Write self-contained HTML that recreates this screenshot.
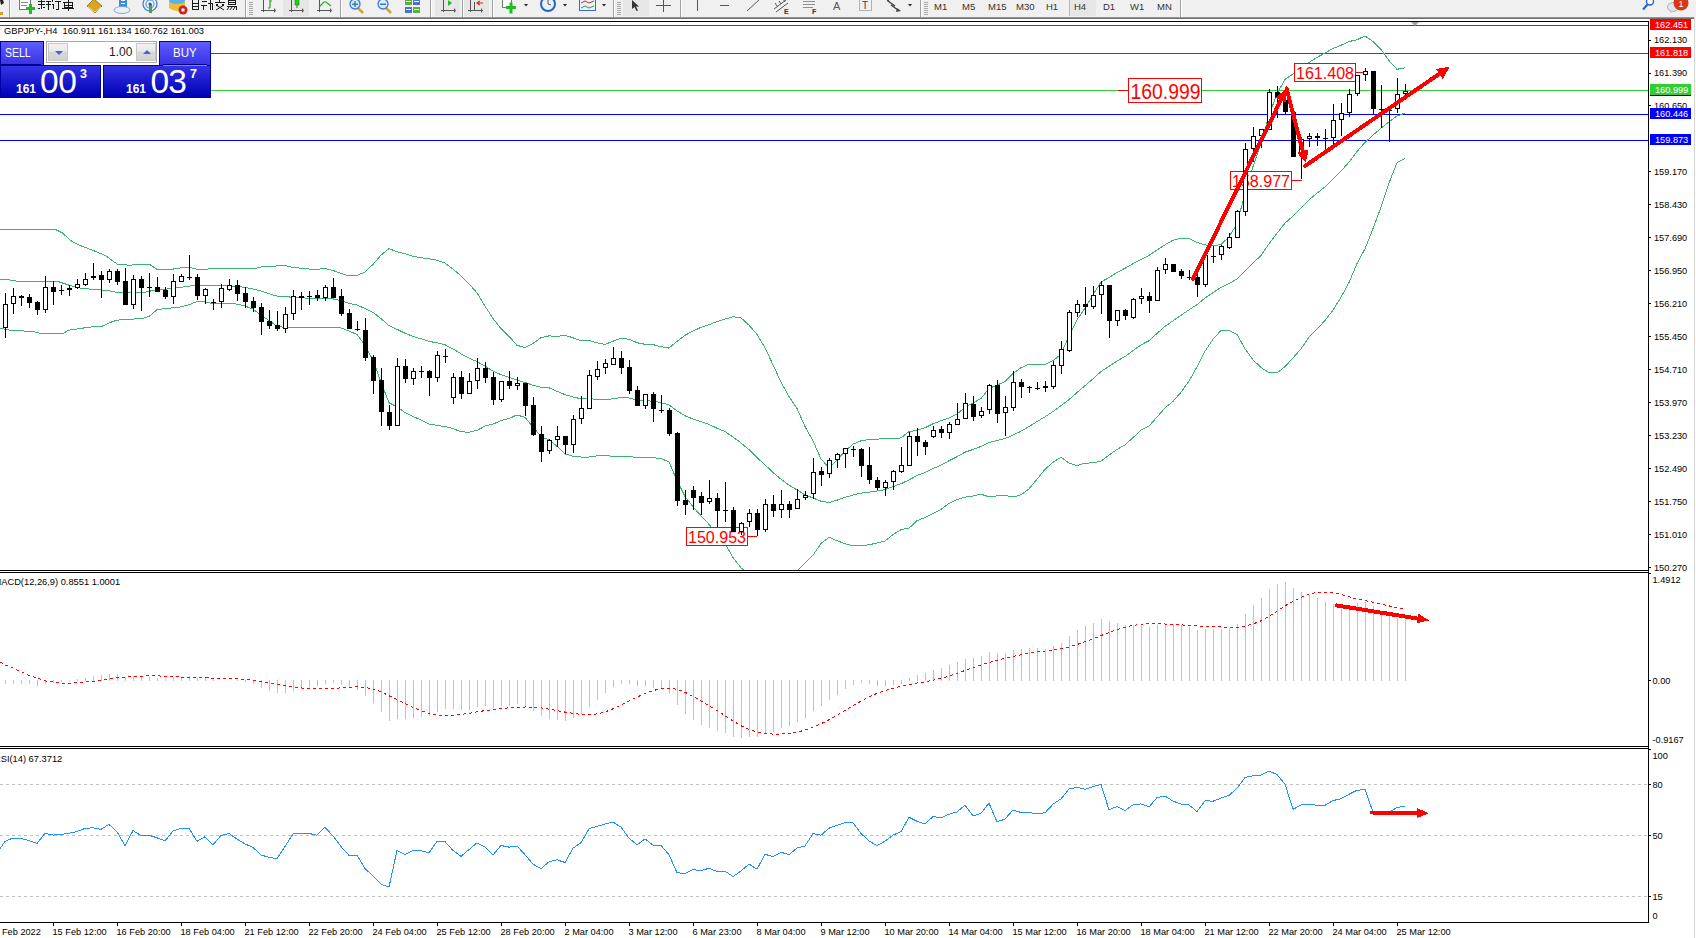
<!DOCTYPE html>
<html><head><meta charset="utf-8"><style>
html,body{margin:0;padding:0;width:1696px;height:938px;overflow:hidden;background:#fff;position:relative;font-family:"Liberation Sans",sans-serif}
#tb{position:absolute;left:0;top:0;width:1696px;height:17px;background:#f0f0f0}

.pb{position:absolute;box-sizing:border-box;border:1px solid #0000a8;background:linear-gradient(#5c5cff,#3a32e2);color:#fff;font-size:12.5px}
.pp{position:absolute;box-sizing:border-box;border:1px solid #0000a8;background:linear-gradient(#3434e4,#0000b4);color:#fff}
.vol{position:absolute;box-sizing:border-box;left:46px;top:41px;width:111px;height:22px;border:1px solid #a8a8a8;background:#fff}
.vb{position:absolute;top:1px;width:20px;height:18px;box-sizing:border-box;background:linear-gradient(#f2f2f2 0%,#e8e8e8 45%,#d8d8d8 50%,#d2d2d2 100%);border:1px solid #c8c8c8}
.tri{position:absolute;left:6px;width:0;height:0;border-left:4px solid transparent;border-right:4px solid transparent}

</style></head><body>
<div id="tb"></div>
<svg width="1696" height="22" style="position:absolute;left:0;top:0" shape-rendering="auto"><g font-family="Liberation Sans"><path d="M0,0 L3,0 L4,3 L1,5 Z" fill="#222"/><rect x="0" y="12" width="3" height="3" fill="#d4a030"/><rect x="9" y="0" width="1" height="17" fill="#a0a0a0"/><rect x="10" y="0" width="1" height="17" fill="#ffffff"/><rect x="19.5" y="-2.5" width="11" height="12" fill="#fff" stroke="#777"/><rect x="21" y="2" width="7" height="1" fill="#888"/><rect x="21" y="5" width="6" height="1" fill="#888"/><rect x="26" y="7" width="9" height="3" fill="#22bb22"/><rect x="29" y="4" width="3" height="10" fill="#22bb22"/><g fill="#1a1a1a"><rect x="38" y="1" width="7" height="1"/><rect x="41" y="0" width="1" height="9"/><rect x="38" y="4" width="7" height="1"/><rect x="38" y="8" width="2" height="1"/><rect x="43" y="7" width="2" height="1"/><rect x="46" y="1" width="5" height="1"/><rect x="48" y="1" width="1" height="9"/><rect x="46" y="4" width="5" height="1"/><rect x="52" y="0" width="1" height="2"/><rect x="52" y="4" width="2" height="1"/><rect x="53" y="4" width="1" height="5"/><rect x="55" y="1" width="6" height="1"/><rect x="58" y="1" width="1" height="9"/><rect x="56" y="9" width="2" height="1"/><rect x="63" y="2" width="10" height="1"/><rect x="64" y="3" width="1" height="5"/><rect x="72" y="3" width="1" height="5"/><rect x="64" y="5" width="9" height="1"/><rect x="64" y="7" width="9" height="1"/><rect x="62" y="8" width="12" height="1"/><rect x="68" y="0" width="1" height="11"/></g><path d="M87,6 L94,-1 L102,6 L95,13 Z" fill="#d9a520" stroke="#8a6410" stroke-width="0.8"/><path d="M88,7 L95,12 L101,7" fill="none" stroke="#f5e090" stroke-width="1"/><rect x="119" y="-2" width="8" height="9" fill="#3a8ee0"/><rect x="121" y="0" width="4" height="1" fill="#fff"/><rect x="121" y="3" width="4" height="1" fill="#fff"/><ellipse cx="122" cy="10" rx="8" ry="3.5" fill="#e8f0f8" stroke="#7a96b8" stroke-width="0.8"/><circle cx="150" cy="4" r="7" fill="none" stroke="#3a78d0" stroke-width="1.2"/><circle cx="150" cy="4" r="4" fill="none" stroke="#5aa0e0" stroke-width="1.2"/><rect x="149" y="4" width="3" height="9" fill="#4aa050"/><circle cx="150" cy="4" r="1.5" fill="#1a5ab0"/><ellipse cx="177" cy="1" rx="8" ry="4" fill="#5ab0e8"/><path d="M169,2 L169,8 Q177,14 185,8 L185,2 Q177,6 169,2 Z" fill="#e8c030"/><circle cx="183" cy="10" r="4.5" fill="#d02020"/><rect x="181.5" y="8.5" width="3" height="3" fill="#fff"/><g fill="#1a1a1a"><rect x="192" y="0" width="1" height="10"/><rect x="198" y="0" width="1" height="10"/><rect x="192" y="3" width="7" height="1"/><rect x="192" y="6" width="7" height="1"/><rect x="192" y="9" width="7" height="1"/><rect x="202" y="1" width="5" height="1"/><rect x="201" y="5" width="6" height="1"/><rect x="203" y="5" width="1" height="5"/><rect x="208" y="3" width="5" height="1"/><rect x="210" y="0" width="1" height="10"/><rect x="212" y="3" width="1" height="7"/><rect x="215" y="2" width="10" height="1"/><rect x="219" y="0" width="1" height="2"/><rect x="216" y="4" width="2" height="2"/><rect x="222" y="4" width="2" height="2"/><path d="M216,10 L224,5" stroke="#1a1a1a" stroke-width="1"/><path d="M216,5 L224,10" stroke="#1a1a1a" stroke-width="1"/><rect x="228" y="0" width="8" height="1"/><rect x="228" y="0" width="1" height="5"/><rect x="235" y="0" width="1" height="5"/><rect x="228" y="2" width="8" height="1"/><rect x="228" y="4" width="8" height="1"/><rect x="227" y="6" width="10" height="1"/><rect x="236" y="6" width="1" height="4"/><path d="M229,7 L227,10 M232,7 L230,10 M235,7 L233,10" stroke="#1a1a1a" stroke-width="1"/></g><rect x="245" y="0" width="1" height="17" fill="#a0a0a0"/><rect x="246" y="0" width="1" height="17" fill="#ffffff"/><rect x="249" y="2" width="4" height="1" fill="#a8a8a8"/><rect x="249" y="4" width="4" height="1" fill="#a8a8a8"/><rect x="249" y="6" width="4" height="1" fill="#a8a8a8"/><rect x="249" y="8" width="4" height="1" fill="#a8a8a8"/><rect x="249" y="10" width="4" height="1" fill="#a8a8a8"/><rect x="249" y="12" width="4" height="1" fill="#a8a8a8"/><rect x="249" y="14" width="4" height="1" fill="#a8a8a8"/><rect x="263" y="-1" width="1" height="13" fill="#555"/><rect x="261" y="10" width="14" height="1" fill="#555"/><path d="M274,8 L276,10.5 L274,13 Z" fill="#555"/><path d="M270,0 L270,8 M268,8 L270,8 M270,1 L272,1" stroke="#22aa22" stroke-width="1.2" fill="none"/><rect x="283" y="0" width="26" height="16" fill="#e6e6e6"/><rect x="291" y="-1" width="1" height="13" fill="#555"/><rect x="289" y="10" width="14" height="1" fill="#555"/><path d="M302,8 L304,10.5 L302,13 Z" fill="#555"/><rect x="295" y="-1" width="4" height="6" fill="#22cc22" stroke="#118811" stroke-width="0.6"/><rect x="296.5" y="5" width="1" height="3" fill="#118811"/><rect x="319" y="-1" width="1" height="13" fill="#555"/><rect x="317" y="10" width="14" height="1" fill="#555"/><path d="M330,8 L332,10.5 L330,13 Z" fill="#555"/><path d="M319,7 L324,2 L326,2 L331,6" stroke="#22aa22" stroke-width="1.2" fill="none"/><rect x="340" y="0" width="1" height="17" fill="#a0a0a0"/><rect x="341" y="0" width="1" height="17" fill="#ffffff"/><path d="M358,8 L363,13" stroke="#c8a830" stroke-width="2.5"/><circle cx="355" cy="4" r="5" fill="#d8ecfa" stroke="#3a7ad0" stroke-width="1.3"/><rect x="352" y="3.5" width="6" height="1.5" fill="#3a7ad0"/><rect x="354.25" y="1" width="1.5" height="6" fill="#3a7ad0"/><path d="M386,8 L391,13" stroke="#c8a830" stroke-width="2.5"/><circle cx="383" cy="4" r="5" fill="#d8ecfa" stroke="#3a7ad0" stroke-width="1.3"/><rect x="380" y="3.5" width="6" height="1.5" fill="#3a7ad0"/><rect x="405" y="-1" width="7" height="6" fill="#5ab040"/><rect x="413" y="-1" width="7" height="6" fill="#4a70d0"/><rect x="405" y="7" width="7" height="6" fill="#4a70d0"/><rect x="413" y="7" width="7" height="6" fill="#5ab040"/><rect x="406" y="1" width="5" height="1" fill="#fff"/><rect x="414" y="1" width="5" height="1" fill="#fff"/><rect x="406" y="9" width="5" height="1" fill="#fff"/><rect x="414" y="9" width="5" height="1" fill="#fff"/><rect x="430" y="0" width="1" height="17" fill="#a0a0a0"/><rect x="431" y="0" width="1" height="17" fill="#ffffff"/><rect x="435" y="0" width="25" height="16" fill="#e6e6e6"/><rect x="443" y="-1" width="1" height="13" fill="#555"/><rect x="441" y="10" width="14" height="1" fill="#555"/><path d="M454,8 L456,10.5 L454,13 Z" fill="#555"/><path d="M448,0 L452,3 L448,6 Z" fill="#22bb22"/><rect x="462" y="0" width="1" height="17" fill="#a0a0a0"/><rect x="463" y="0" width="1" height="17" fill="#ffffff"/><rect x="464" y="0" width="25" height="16" fill="#e6e6e6"/><rect x="470" y="-1" width="1" height="13" fill="#555"/><rect x="468" y="10" width="14" height="1" fill="#555"/><path d="M481,8 L483,10.5 L481,13 Z" fill="#555"/><rect x="474" y="2" width="1" height="8" fill="#555"/><path d="M483,3 L478,3 M480,1 L477,3 L480,5" stroke="#d03020" stroke-width="1.2" fill="none"/><rect x="492" y="0" width="1" height="17" fill="#a0a0a0"/><rect x="493" y="0" width="1" height="17" fill="#ffffff"/><rect x="502.5" y="-2.5" width="9" height="10" fill="#fff" stroke="#777"/><rect x="506" y="6" width="10" height="3" fill="#22bb22"/><rect x="509.5" y="2.5" width="3" height="11" fill="#22bb22"/><path d="M524,4 L528,4 L526,6.5 Z" fill="#222"/><circle cx="548" cy="4" r="7" fill="#e8f2fc" stroke="#2a62c0" stroke-width="2"/><path d="M548,0 L548,4 L551,5" stroke="#333" stroke-width="0.8" fill="none"/><path d="M563,4 L567,4 L565,6.5 Z" fill="#222"/><rect x="579.5" y="-1.5" width="16" height="12" fill="#eaf2fc" stroke="#3a6ac0"/><path d="M581,3 L585,1 L589,3 L594,1" stroke="#c03020" fill="none"/><path d="M581,8 L585,6 L589,8 L594,6" stroke="#30a030" fill="none"/><path d="M602,4 L606,4 L604,6.5 Z" fill="#222"/><rect x="613" y="0" width="1" height="17" fill="#a0a0a0"/><rect x="614" y="0" width="1" height="17" fill="#ffffff"/><rect x="617" y="2" width="4" height="1" fill="#a8a8a8"/><rect x="617" y="4" width="4" height="1" fill="#a8a8a8"/><rect x="617" y="6" width="4" height="1" fill="#a8a8a8"/><rect x="617" y="8" width="4" height="1" fill="#a8a8a8"/><rect x="617" y="10" width="4" height="1" fill="#a8a8a8"/><rect x="617" y="12" width="4" height="1" fill="#a8a8a8"/><rect x="617" y="14" width="4" height="1" fill="#a8a8a8"/><rect x="623" y="0" width="26" height="16" fill="#e6e6e6"/><path d="M632,0 L632,9 L634.5,7 L636.5,11 L638,10.5 L636,6.5 L639,6.5 Z" fill="#333"/><rect x="663" y="-1" width="1" height="13" fill="#555"/><rect x="656" y="5" width="15" height="1" fill="#555"/><rect x="680" y="0" width="1" height="17" fill="#a0a0a0"/><rect x="681" y="0" width="1" height="17" fill="#ffffff"/><rect x="697" y="-1" width="1" height="12" fill="#555"/><rect x="720" y="5" width="9" height="1" fill="#555"/><path d="M747,11 L760,-1" stroke="#555" stroke-width="1"/><path d="M774,9 L786,0 M776,12 L788,3 M775,3 L777,6 M779,1 L781,4 M783,-1 L785,2" stroke="#555" stroke-width="1" fill="none"/><text x="784" y="14" font-size="7" font-weight="bold" fill="#333">E</text><g fill="#666"><rect x="803" y="1" width="12" height="1" opacity="0.7"/><rect x="803" y="4" width="12" height="1" opacity="0.7"/><rect x="803" y="7" width="10" height="1" opacity="0.7"/></g><text x="812" y="14" font-size="7" font-weight="bold" fill="#333">F</text><text x="833" y="10" font-size="11" fill="#555">A</text><rect x="859.5" y="-0.5" width="12" height="11" fill="none" stroke="#777" stroke-dasharray="1,1"/><text x="862" y="9" font-size="10" fill="#444">T</text><path d="M888,1 L895,6 M891,5 L898,10" stroke="#444" stroke-width="1.5"/><path d="M886,-1 L890,-1 L888,2Z M897,8 L901,11 L896,12Z" fill="#444"/><path d="M908,4 L912,4 L910,6.5 Z" fill="#222"/><rect x="920" y="0" width="1" height="17" fill="#a0a0a0"/><rect x="921" y="0" width="1" height="17" fill="#ffffff"/><rect x="924" y="2" width="4" height="1" fill="#a8a8a8"/><rect x="924" y="4" width="4" height="1" fill="#a8a8a8"/><rect x="924" y="6" width="4" height="1" fill="#a8a8a8"/><rect x="924" y="8" width="4" height="1" fill="#a8a8a8"/><rect x="924" y="10" width="4" height="1" fill="#a8a8a8"/><rect x="924" y="12" width="4" height="1" fill="#a8a8a8"/><rect x="924" y="14" width="4" height="1" fill="#a8a8a8"/><rect x="1069" y="0" width="27" height="16" fill="#e6e6e6"/><rect x="1069" y="0" width="1" height="16" fill="#b8b8b8"/><text x="934" y="10" font-size="9.5" fill="#333">M1</text><text x="962" y="10" font-size="9.5" fill="#333">M5</text><text x="988" y="10" font-size="9.5" fill="#333">M15</text><text x="1016" y="10" font-size="9.5" fill="#333">M30</text><text x="1046" y="10" font-size="9.5" fill="#333">H1</text><text x="1074" y="10" font-size="9.5" fill="#333">H4</text><text x="1103" y="10" font-size="9.5" fill="#333">D1</text><text x="1130" y="10" font-size="9.5" fill="#333">W1</text><text x="1157" y="10" font-size="9.5" fill="#333">MN</text><rect x="1180" y="0" width="1" height="17" fill="#a0a0a0"/><rect x="1181" y="0" width="1" height="17" fill="#ffffff"/><circle cx="1650" cy="1.5" r="3.5" fill="#fff" stroke="#2a62d0" stroke-width="1.4"/><path d="M1647.5,4.5 L1643,9.5" stroke="#2a62d0" stroke-width="2.2"/><ellipse cx="1673" cy="7" rx="5.5" ry="4.5" fill="#e4e4ec" stroke="#a0a0a8" stroke-width="0.8"/><path d="M1670,10 L1670,13.5 L1673,11" fill="#c8c8d0"/><circle cx="1681" cy="3" r="7.5" fill="#d83818"/><text x="1678.5" y="7" font-size="9" fill="#fff">1</text></g>
<rect x="0" y="17" width="1695" height="1" fill="#969696"/><rect x="0" y="18" width="1695" height="1" fill="#6e6e6e"/>
</svg>
<svg width="1696" height="938" style="position:absolute;left:0;top:0">
<defs><clipPath id="cpMain"><rect x="0" y="22" width="1648" height="548"/></clipPath>
<clipPath id="cpMacd"><rect x="0" y="573" width="1648" height="173"/></clipPath>
<clipPath id="cpAll"><rect x="0" y="22" width="1648" height="900"/></clipPath>
<clipPath id="cpRsi"><rect x="0" y="749" width="1648" height="173"/></clipPath></defs>
<g shape-rendering="crispEdges"><rect x="0" y="21" width="1649" height="1" fill="#000"/><rect x="1648" y="21" width="1" height="902" fill="#000"/><rect x="0" y="570" width="1649" height="1" fill="#000"/><rect x="0" y="572" width="1649" height="1" fill="#000"/><rect x="0" y="746" width="1649" height="1" fill="#000"/><rect x="0" y="748" width="1649" height="1" fill="#000"/><rect x="0" y="922" width="1649" height="1" fill="#000"/><rect x="0" y="25" width="1648" height="1" fill="#ff0000"/><rect x="0" y="53" width="1648" height="1" fill="#ff0000"/><rect x="0" y="90" width="1648" height="1" fill="#32cd32"/><rect x="0" y="114" width="1648" height="1" fill="#0000ff"/><rect x="0" y="140" width="1648" height="1" fill="#0000ff"/></g>
<g clip-path="url(#cpMain)" shape-rendering="crispEdges"><polyline points="0,229.9 32.8,229.3 55.2,229.3 62.7,233.1 70.2,240.3 78.9,245 92.8,250.3 105.6,255.6 109.8,258.7 117.3,264.2 130.1,265.3 137.6,264.2 149.3,264.2 157,269.4 165,269.9 173,269.1 181,267.8 189,267.3 197,269.3 205,269.3 213,268.4 221,268.4 229,268.3 237,268.4 245,268.7 253,268.9 261,266.9 269,267 277,265.9 285,265.6 293,267.5 301,268.2 309,269 317,269.4 325,268.5 333,270.4 341,273.5 349,275.8 357,275.5 365,272 373,264.4 381,255.1 389,248.6 397,251.8 405,253.8 413,256.3 421,257.7 429,258.8 437,260.1 445,263.1 453,269.2 461,275.7 469,284 477,292.8 485,306.1 493,318.4 501,328.7 509,336.3 517,345.3 525,347.6 533,343.5 541,337.6 549,335.9 557,336.4 565,335.3 573,337.8 581,340.7 589,340.4 597,342.9 605,344.4 613,341.2 621,338.4 629,339.2 637,342.7 645,344.3 653,344.6 661,346.7 669,348.1 677,341.4 685,335.3 693,331.1 701,327.3 709,324.7 717,321.6 725,319.1 733,316.8 741,317.8 749,325.2 757,334.3 765,347.8 773,364.8 781,382.2 789,396.4 797,408.6 805,426.6 813,440.8 821,458.9 829,467.9 837,459.8 845,451.2 853,444.1 861,440.8 869,439.6 877,439.2 885,438.3 893,438.5 901,437.9 909,431.6 917,430.3 925,427.8 933,423.8 941,420.7 949,418 957,414.1 965,407.2 973,403 981,398.5 989,388.4 997,385.2 1005,381.5 1013,373.4 1021,367.7 1029,364.3 1037,364 1045,364.4 1053,360.7 1061,354.3 1069,335.9 1077,319.8 1085,308.2 1093,294.8 1101,282 1109,277.6 1117,272.4 1125,268.3 1133,263.7 1141,259.6 1149,255.4 1157,249.9 1165,244.8 1173,240.2 1181,238.3 1189,238.5 1197,242.5 1205,244.8 1213,246 1221,244.4 1229,237 1237,223.7 1245,193.5 1253,166.6 1261,143.1 1269,115.3 1277,93.7 1285,79.4 1293,74 1301,67.4 1309,62.5 1317,57.4 1325,53.1 1333,48.5 1341,45.2 1349,41.6 1357,39.7 1365,35.9 1373,41.5 1381,49.3 1389,60.6 1397,69.3 1405,67.8" fill="none" stroke="#3cb371" stroke-width="1"/><polyline points="0,279.3 9.6,279.3 10.7,280.9 34.1,281.4 57.6,281.4 69.3,285.3 81,288.2 90.6,289.2 106.6,290.3 117.3,292.5 144,292.5 153.5,290.3 157,289.6 165,289.2 173,288.4 181,287.4 189,286.1 197,285.4 205,285.5 213,286 221,285.9 229,285.8 237,286.3 245,287.4 253,288.9 261,291 269,293.7 277,296.1 285,296.5 293,297.4 301,297.8 309,298.2 317,298.5 325,298.1 333,298.9 341,300.8 349,303.4 357,305.1 365,308.5 373,312.4 381,318.6 389,325.7 397,329.3 405,333.2 413,336.4 421,338.8 429,341.4 437,342.8 445,344.8 453,348.9 461,353.8 469,358.1 477,361.6 485,366.1 493,371.2 501,374.6 509,377.4 517,380.1 525,382.5 533,385.2 541,387.2 549,387.8 557,391.3 565,394.6 573,397 581,398.8 589,398.7 597,399.4 605,399.8 613,398.8 621,397.5 629,398 637,399.9 645,400.7 653,401.2 661,402.6 669,405 677,410.9 685,415.8 693,419 701,421.5 709,424.5 717,428.2 725,431.5 733,437.1 741,442.9 749,449.7 757,457.7 765,464.8 773,472.5 781,479.2 789,485.2 797,489.8 805,494.9 813,498 821,501.2 829,502.6 837,500.2 845,497.4 853,495 861,493.1 869,492.2 877,491.1 885,489.6 893,486.6 901,483.7 909,479.9 917,475.5 925,472.7 933,468.6 941,465.1 949,460.8 957,456.8 965,452.2 973,449.5 981,446.4 989,442.6 997,440.6 1005,438.5 1013,435.2 1021,431.2 1029,426.6 1037,421.6 1045,416.8 1053,411.5 1061,405.7 1069,399.5 1077,392.6 1085,385.6 1093,378.9 1101,371.5 1109,366.3 1117,360.9 1125,356.6 1133,350.6 1141,344.9 1149,340.7 1157,333.5 1165,326.4 1173,320.8 1181,315.3 1189,309.8 1197,304.6 1205,298.1 1213,292.6 1221,287.4 1229,283.7 1237,279 1245,271.2 1253,263.2 1261,255.4 1269,243.9 1277,233.3 1285,223.1 1293,216 1301,208.1 1309,199.9 1317,193.2 1325,186.9 1333,179.3 1341,171.2 1349,162.1 1357,151.6 1365,142.4 1373,135.1 1381,128.2 1389,121.8 1397,116 1405,113.1" fill="none" stroke="#3cb371" stroke-width="1"/><polyline points="0,328.2 10.7,330.3 32,331.4 41.6,333.5 62.9,333.5 68.2,330.3 89.6,327.1 102.4,326.1 109.8,322.6 117.3,320.1 142.9,318.4 149.3,316.3 157,309.7 165,308.5 173,307.8 181,306.9 189,304.8 197,301.5 205,301.7 213,303.7 221,303.5 229,303.3 237,304.1 245,306.1 253,309 261,315.1 269,320.5 277,326.2 285,327.5 293,327.4 301,327.4 309,327.5 317,327.6 325,327.6 333,327.4 341,328 349,331 357,334.6 365,345 373,360.4 381,382.2 389,402.7 397,406.8 405,412.5 413,416.4 421,420 429,424.1 437,425.4 445,426.5 453,428.6 461,431.8 469,432.2 477,430.4 485,426.1 493,424.1 501,420.5 509,418.6 517,414.9 525,417.4 533,426.9 541,436.7 549,439.8 557,446.3 565,453.9 573,456.2 581,457 589,457 597,455.9 605,455.2 613,456.4 621,456.7 629,456.8 637,457.2 645,457.1 653,457.7 661,458.5 669,461.9 677,480.4 685,496.4 693,506.8 701,515.8 709,524.3 717,534.8 725,543.8 733,557.4 741,567.9 749,574.3 757,581.2 765,581.7 773,580.2 781,576.3 789,574 797,571.1 805,563.2 813,555.2 821,543.5 829,537.2 837,540.7 845,543.7 853,545.9 861,545.5 869,544.8 877,543 885,540.9 893,534.7 901,529.6 909,528.2 917,520.7 925,517.5 933,513.4 941,509.4 949,503.5 957,499.5 965,497.2 973,496 981,494.2 989,496.8 997,495.9 1005,495.5 1013,497 1021,494.8 1029,488.9 1037,479.2 1045,469.3 1053,462.3 1061,457.2 1069,463.2 1077,465.5 1085,463.1 1093,462.9 1101,461.1 1109,455.1 1117,449.4 1125,444.8 1133,437.6 1141,430.2 1149,426 1157,417.1 1165,407.9 1173,401.4 1181,392.2 1189,381 1197,366.8 1205,351.3 1213,339.2 1221,330.5 1229,330.3 1237,334.4 1245,348.8 1253,359.8 1261,367.6 1269,372.5 1277,372.9 1285,366.7 1293,357.9 1301,348.8 1309,337.2 1317,329.1 1325,320.6 1333,310.1 1341,297.2 1349,282.5 1357,263.5 1365,248.8 1373,228.6 1381,207.1 1389,183.1 1397,162.7 1405,158.3" fill="none" stroke="#3cb371" stroke-width="1"/></g>
<g font-family="Liberation Sans"><rect x="1118" y="90" width="10" height="1" fill="#ff0000"/><rect x="1128.5" y="78.5" width="73" height="24" fill="#fff" stroke="#ff0000" stroke-width="1"/><text x="1130.5" y="99" font-size="22" fill="#ff0000" textLength="70" lengthAdjust="spacingAndGlyphs">160.999</text><rect x="1356" y="72" width="8" height="1" fill="#ff0000"/><rect x="1294.5" y="63.5" width="61" height="18" fill="#fff" stroke="#ff0000" stroke-width="1"/><text x="1296" y="78.5" font-size="17" fill="#ff0000" textLength="58" lengthAdjust="spacingAndGlyphs">161.408</text><rect x="1292" y="180" width="10" height="1" fill="#ff0000"/><rect x="1230.5" y="171.5" width="61" height="18" fill="#fff" stroke="#ff0000" stroke-width="1"/><text x="1232" y="186.5" font-size="17" fill="#ff0000" textLength="58" lengthAdjust="spacingAndGlyphs">158.977</text><rect x="748" y="536" width="9" height="1" fill="#ff0000"/><rect x="686.5" y="527.5" width="61" height="18" fill="#fff" stroke="#ff0000" stroke-width="1"/><text x="688" y="542.5" font-size="17" fill="#ff0000" textLength="58" lengthAdjust="spacingAndGlyphs">150.953</text></g>
<g shape-rendering="crispEdges"><g fill="#000"><rect x="5" y="293" width="1" height="45"/><rect x="3" y="304" width="5" height="24"/><rect x="4" y="305" width="3" height="22" fill="#fff"/><rect x="13" y="288" width="1" height="26"/><rect x="11" y="296" width="5" height="8"/><rect x="12" y="297" width="3" height="6" fill="#fff"/><rect x="21" y="295" width="1" height="11"/><rect x="19" y="296" width="5" height="2"/><rect x="29" y="294" width="1" height="14"/><rect x="27" y="297" width="5" height="6"/><rect x="37" y="301" width="1" height="14"/><rect x="35" y="302" width="5" height="8"/><rect x="45" y="276" width="1" height="37"/><rect x="43" y="287" width="5" height="23"/><rect x="44" y="288" width="3" height="21" fill="#fff"/><rect x="53" y="281" width="1" height="24"/><rect x="51" y="287" width="5" height="5"/><rect x="61" y="285" width="1" height="10"/><rect x="59" y="290" width="5" height="1"/><rect x="69" y="285" width="1" height="11"/><rect x="67" y="288" width="5" height="2"/><rect x="77" y="279" width="1" height="10"/><rect x="75" y="284" width="5" height="4"/><rect x="76" y="285" width="3" height="2" fill="#fff"/><rect x="85" y="273" width="1" height="13"/><rect x="83" y="279" width="5" height="6"/><rect x="84" y="280" width="3" height="4" fill="#fff"/><rect x="93" y="263" width="1" height="17"/><rect x="91" y="276" width="5" height="2"/><rect x="101" y="271" width="1" height="27"/><rect x="99" y="275" width="5" height="5"/><rect x="109" y="269" width="1" height="14"/><rect x="107" y="271" width="5" height="9"/><rect x="108" y="272" width="3" height="7" fill="#fff"/><rect x="117" y="269" width="1" height="16"/><rect x="115" y="271" width="5" height="11"/><rect x="125" y="268" width="1" height="37"/><rect x="123" y="281" width="5" height="24"/><rect x="133" y="275" width="1" height="34"/><rect x="131" y="279" width="5" height="26"/><rect x="132" y="280" width="3" height="24" fill="#fff"/><rect x="141" y="276" width="1" height="35"/><rect x="139" y="279" width="5" height="9"/><rect x="149" y="273" width="1" height="24"/><rect x="147" y="287" width="5" height="1"/><rect x="157" y="277" width="1" height="15"/><rect x="155" y="287" width="5" height="5"/><rect x="165" y="287" width="1" height="12"/><rect x="163" y="290" width="5" height="7"/><rect x="173" y="274" width="1" height="30"/><rect x="171" y="281" width="5" height="16"/><rect x="172" y="282" width="3" height="14" fill="#fff"/><rect x="181" y="274" width="1" height="8"/><rect x="179" y="276" width="5" height="6"/><rect x="180" y="277" width="3" height="4" fill="#fff"/><rect x="189" y="255" width="1" height="25"/><rect x="187" y="277" width="5" height="1"/><rect x="197" y="274" width="1" height="26"/><rect x="195" y="277" width="5" height="19"/><rect x="205" y="288" width="1" height="16"/><rect x="203" y="289" width="5" height="7"/><rect x="204" y="290" width="3" height="5" fill="#fff"/><rect x="213" y="299" width="1" height="11"/><rect x="211" y="302" width="5" height="1"/><rect x="221" y="284" width="1" height="24"/><rect x="219" y="288" width="5" height="14"/><rect x="220" y="289" width="3" height="12" fill="#fff"/><rect x="229" y="279" width="1" height="12"/><rect x="227" y="285" width="5" height="5"/><rect x="228" y="286" width="3" height="3" fill="#fff"/><rect x="237" y="280" width="1" height="21"/><rect x="235" y="285" width="5" height="9"/><rect x="245" y="287" width="1" height="21"/><rect x="243" y="293" width="5" height="9"/><rect x="253" y="297" width="1" height="15"/><rect x="251" y="301" width="5" height="7"/><rect x="261" y="303" width="1" height="32"/><rect x="259" y="307" width="5" height="15"/><rect x="269" y="310" width="1" height="19"/><rect x="267" y="321" width="5" height="5"/><rect x="277" y="311" width="1" height="20"/><rect x="275" y="325" width="5" height="4"/><rect x="285" y="307" width="1" height="26"/><rect x="283" y="314" width="5" height="15"/><rect x="284" y="315" width="3" height="13" fill="#fff"/><rect x="293" y="290" width="1" height="30"/><rect x="291" y="296" width="5" height="18"/><rect x="292" y="297" width="3" height="16" fill="#fff"/><rect x="301" y="292" width="1" height="18"/><rect x="299" y="296" width="5" height="2"/><rect x="309" y="291" width="1" height="14"/><rect x="307" y="296" width="5" height="1"/><rect x="317" y="290" width="1" height="11"/><rect x="315" y="295" width="5" height="3"/><rect x="325" y="285" width="1" height="16"/><rect x="323" y="287" width="5" height="11"/><rect x="324" y="288" width="3" height="9" fill="#fff"/><rect x="333" y="278" width="1" height="20"/><rect x="331" y="287" width="5" height="11"/><rect x="341" y="289" width="1" height="27"/><rect x="339" y="296" width="5" height="18"/><rect x="349" y="309" width="1" height="20"/><rect x="347" y="313" width="5" height="16"/><rect x="357" y="321" width="1" height="10"/><rect x="355" y="329" width="5" height="1"/><rect x="365" y="318" width="1" height="43"/><rect x="363" y="330" width="5" height="28"/><rect x="373" y="355" width="1" height="39"/><rect x="371" y="357" width="5" height="24"/><rect x="381" y="368" width="1" height="58"/><rect x="379" y="380" width="5" height="32"/><rect x="389" y="405" width="1" height="25"/><rect x="387" y="412" width="5" height="14"/><rect x="397" y="358" width="1" height="68"/><rect x="395" y="366" width="5" height="60"/><rect x="396" y="367" width="3" height="58" fill="#fff"/><rect x="405" y="359" width="1" height="24"/><rect x="403" y="366" width="5" height="13"/><rect x="413" y="368" width="1" height="17"/><rect x="411" y="371" width="5" height="8"/><rect x="412" y="372" width="3" height="6" fill="#fff"/><rect x="421" y="366" width="1" height="12"/><rect x="419" y="371" width="5" height="1"/><rect x="429" y="370" width="1" height="26"/><rect x="427" y="371" width="5" height="7"/><rect x="437" y="351" width="1" height="31"/><rect x="435" y="355" width="5" height="23"/><rect x="436" y="356" width="3" height="21" fill="#fff"/><rect x="445" y="349" width="1" height="14"/><rect x="443" y="356" width="5" height="1"/><rect x="453" y="373" width="1" height="31"/><rect x="451" y="377" width="5" height="21"/><rect x="452" y="378" width="3" height="19" fill="#fff"/><rect x="461" y="371" width="1" height="28"/><rect x="459" y="377" width="5" height="17"/><rect x="469" y="373" width="1" height="21"/><rect x="467" y="381" width="5" height="13"/><rect x="468" y="382" width="3" height="11" fill="#fff"/><rect x="477" y="358" width="1" height="31"/><rect x="475" y="368" width="5" height="13"/><rect x="476" y="369" width="3" height="11" fill="#fff"/><rect x="485" y="362" width="1" height="21"/><rect x="483" y="368" width="5" height="10"/><rect x="493" y="372" width="1" height="33"/><rect x="491" y="377" width="5" height="23"/><rect x="501" y="381" width="1" height="21"/><rect x="499" y="381" width="5" height="19"/><rect x="500" y="382" width="3" height="17" fill="#fff"/><rect x="509" y="371" width="1" height="18"/><rect x="507" y="381" width="5" height="5"/><rect x="517" y="377" width="1" height="13"/><rect x="515" y="383" width="5" height="3"/><rect x="516" y="384" width="3" height="1" fill="#fff"/><rect x="525" y="383" width="1" height="33"/><rect x="523" y="383" width="5" height="23"/><rect x="533" y="397" width="1" height="39"/><rect x="531" y="405" width="5" height="30"/><rect x="541" y="426" width="1" height="36"/><rect x="539" y="434" width="5" height="18"/><rect x="549" y="439" width="1" height="15"/><rect x="547" y="440" width="5" height="11"/><rect x="548" y="441" width="3" height="9" fill="#fff"/><rect x="557" y="426" width="1" height="21"/><rect x="555" y="436" width="5" height="4"/><rect x="556" y="437" width="3" height="2" fill="#fff"/><rect x="565" y="436" width="1" height="18"/><rect x="563" y="436" width="5" height="9"/><rect x="573" y="415" width="1" height="38"/><rect x="571" y="419" width="5" height="26"/><rect x="572" y="420" width="3" height="24" fill="#fff"/><rect x="581" y="396" width="1" height="28"/><rect x="579" y="408" width="5" height="11"/><rect x="580" y="409" width="3" height="9" fill="#fff"/><rect x="589" y="370" width="1" height="39"/><rect x="587" y="375" width="5" height="34"/><rect x="588" y="376" width="3" height="32" fill="#fff"/><rect x="597" y="361" width="1" height="19"/><rect x="595" y="369" width="5" height="8"/><rect x="596" y="370" width="3" height="6" fill="#fff"/><rect x="605" y="359" width="1" height="15"/><rect x="603" y="363" width="5" height="5"/><rect x="604" y="364" width="3" height="3" fill="#fff"/><rect x="613" y="347" width="1" height="18"/><rect x="611" y="358" width="5" height="7"/><rect x="612" y="359" width="3" height="5" fill="#fff"/><rect x="621" y="351" width="1" height="23"/><rect x="619" y="358" width="5" height="10"/><rect x="629" y="360" width="1" height="34"/><rect x="627" y="367" width="5" height="24"/><rect x="637" y="386" width="1" height="20"/><rect x="635" y="390" width="5" height="16"/><rect x="645" y="394" width="1" height="15"/><rect x="643" y="394" width="5" height="12"/><rect x="644" y="395" width="3" height="10" fill="#fff"/><rect x="653" y="392" width="1" height="30"/><rect x="651" y="394" width="5" height="15"/><rect x="661" y="395" width="1" height="18"/><rect x="659" y="410" width="5" height="1"/><rect x="669" y="408" width="1" height="28"/><rect x="667" y="410" width="5" height="24"/><rect x="677" y="432" width="1" height="74"/><rect x="675" y="433" width="5" height="68"/><rect x="685" y="490" width="1" height="25"/><rect x="683" y="500" width="5" height="5"/><rect x="693" y="486" width="1" height="24"/><rect x="691" y="490" width="5" height="8"/><rect x="701" y="492" width="1" height="23"/><rect x="699" y="496" width="5" height="7"/><rect x="709" y="480" width="1" height="24"/><rect x="707" y="498" width="5" height="4"/><rect x="708" y="499" width="3" height="2" fill="#fff"/><rect x="717" y="493" width="1" height="34"/><rect x="715" y="498" width="5" height="13"/><rect x="725" y="482" width="1" height="40"/><rect x="723" y="510" width="5" height="1"/><rect x="733" y="507" width="1" height="25"/><rect x="731" y="510" width="5" height="22"/><rect x="741" y="522" width="1" height="13"/><rect x="739" y="523" width="5" height="9"/><rect x="740" y="524" width="3" height="7" fill="#fff"/><rect x="749" y="509" width="1" height="18"/><rect x="747" y="513" width="5" height="9"/><rect x="748" y="514" width="3" height="7" fill="#fff"/><rect x="757" y="509" width="1" height="27"/><rect x="755" y="513" width="5" height="17"/><rect x="765" y="499" width="1" height="33"/><rect x="763" y="504" width="5" height="26"/><rect x="764" y="505" width="3" height="24" fill="#fff"/><rect x="773" y="495" width="1" height="22"/><rect x="771" y="504" width="5" height="7"/><rect x="781" y="490" width="1" height="28"/><rect x="779" y="504" width="5" height="6"/><rect x="780" y="505" width="3" height="4" fill="#fff"/><rect x="789" y="501" width="1" height="17"/><rect x="787" y="504" width="5" height="6"/><rect x="797" y="489" width="1" height="20"/><rect x="795" y="499" width="5" height="10"/><rect x="796" y="500" width="3" height="8" fill="#fff"/><rect x="805" y="491" width="1" height="9"/><rect x="803" y="495" width="5" height="3"/><rect x="804" y="496" width="3" height="1" fill="#fff"/><rect x="813" y="458" width="1" height="41"/><rect x="811" y="472" width="5" height="22"/><rect x="812" y="473" width="3" height="20" fill="#fff"/><rect x="821" y="467" width="1" height="19"/><rect x="819" y="471" width="5" height="4"/><rect x="829" y="458" width="1" height="20"/><rect x="827" y="460" width="5" height="14"/><rect x="828" y="461" width="3" height="12" fill="#fff"/><rect x="837" y="453" width="1" height="15"/><rect x="835" y="454" width="5" height="6"/><rect x="836" y="455" width="3" height="4" fill="#fff"/><rect x="845" y="448" width="1" height="20"/><rect x="843" y="448" width="5" height="6"/><rect x="844" y="449" width="3" height="4" fill="#fff"/><rect x="853" y="446" width="1" height="11"/><rect x="851" y="449" width="5" height="1"/><rect x="861" y="448" width="1" height="29"/><rect x="859" y="449" width="5" height="17"/><rect x="869" y="447" width="1" height="37"/><rect x="867" y="465" width="5" height="15"/><rect x="877" y="477" width="1" height="13"/><rect x="875" y="480" width="5" height="8"/><rect x="885" y="480" width="1" height="16"/><rect x="883" y="482" width="5" height="6"/><rect x="884" y="483" width="3" height="4" fill="#fff"/><rect x="893" y="470" width="1" height="20"/><rect x="891" y="471" width="5" height="11"/><rect x="892" y="472" width="3" height="9" fill="#fff"/><rect x="901" y="447" width="1" height="26"/><rect x="899" y="465" width="5" height="7"/><rect x="900" y="466" width="3" height="5" fill="#fff"/><rect x="909" y="432" width="1" height="34"/><rect x="907" y="436" width="5" height="30"/><rect x="908" y="437" width="3" height="28" fill="#fff"/><rect x="917" y="428" width="1" height="28"/><rect x="915" y="436" width="5" height="6"/><rect x="925" y="440" width="1" height="15"/><rect x="923" y="442" width="5" height="5"/><rect x="933" y="426" width="1" height="12"/><rect x="931" y="430" width="5" height="7"/><rect x="932" y="431" width="3" height="5" fill="#fff"/><rect x="941" y="426" width="1" height="12"/><rect x="939" y="429" width="5" height="4"/><rect x="949" y="422" width="1" height="17"/><rect x="947" y="424" width="5" height="9"/><rect x="948" y="425" width="3" height="7" fill="#fff"/><rect x="957" y="403" width="1" height="22"/><rect x="955" y="419" width="5" height="6"/><rect x="956" y="420" width="3" height="4" fill="#fff"/><rect x="965" y="393" width="1" height="26"/><rect x="963" y="403" width="5" height="16"/><rect x="964" y="404" width="3" height="14" fill="#fff"/><rect x="973" y="396" width="1" height="25"/><rect x="971" y="404" width="5" height="13"/><rect x="981" y="407" width="1" height="11"/><rect x="979" y="411" width="5" height="5"/><rect x="980" y="412" width="3" height="3" fill="#fff"/><rect x="989" y="384" width="1" height="30"/><rect x="987" y="385" width="5" height="25"/><rect x="988" y="386" width="3" height="23" fill="#fff"/><rect x="997" y="380" width="1" height="43"/><rect x="995" y="385" width="5" height="29"/><rect x="1005" y="396" width="1" height="40"/><rect x="1003" y="407" width="5" height="6"/><rect x="1004" y="408" width="3" height="4" fill="#fff"/><rect x="1013" y="371" width="1" height="40"/><rect x="1011" y="382" width="5" height="26"/><rect x="1012" y="383" width="3" height="24" fill="#fff"/><rect x="1021" y="379" width="1" height="19"/><rect x="1019" y="382" width="5" height="5"/><rect x="1029" y="386" width="1" height="7"/><rect x="1027" y="387" width="5" height="1"/><rect x="1037" y="382" width="1" height="8"/><rect x="1035" y="388" width="5" height="1"/><rect x="1045" y="381" width="1" height="11"/><rect x="1043" y="386" width="5" height="2"/><rect x="1053" y="361" width="1" height="28"/><rect x="1051" y="365" width="5" height="22"/><rect x="1052" y="366" width="3" height="20" fill="#fff"/><rect x="1061" y="341" width="1" height="33"/><rect x="1059" y="349" width="5" height="17"/><rect x="1060" y="350" width="3" height="15" fill="#fff"/><rect x="1069" y="310" width="1" height="42"/><rect x="1067" y="312" width="5" height="39"/><rect x="1068" y="313" width="3" height="37" fill="#fff"/><rect x="1077" y="300" width="1" height="17"/><rect x="1075" y="304" width="5" height="9"/><rect x="1076" y="305" width="3" height="7" fill="#fff"/><rect x="1085" y="287" width="1" height="28"/><rect x="1083" y="304" width="5" height="3"/><rect x="1093" y="286" width="1" height="23"/><rect x="1091" y="295" width="5" height="12"/><rect x="1092" y="296" width="3" height="10" fill="#fff"/><rect x="1101" y="281" width="1" height="33"/><rect x="1099" y="285" width="5" height="10"/><rect x="1100" y="286" width="3" height="8" fill="#fff"/><rect x="1109" y="285" width="1" height="53"/><rect x="1107" y="285" width="5" height="36"/><rect x="1117" y="310" width="1" height="16"/><rect x="1115" y="310" width="5" height="11"/><rect x="1116" y="311" width="3" height="9" fill="#fff"/><rect x="1125" y="309" width="1" height="11"/><rect x="1123" y="310" width="5" height="6"/><rect x="1133" y="298" width="1" height="21"/><rect x="1131" y="299" width="5" height="19"/><rect x="1132" y="300" width="3" height="17" fill="#fff"/><rect x="1141" y="288" width="1" height="16"/><rect x="1139" y="296" width="5" height="3"/><rect x="1140" y="297" width="3" height="1" fill="#fff"/><rect x="1149" y="292" width="1" height="21"/><rect x="1147" y="296" width="5" height="5"/><rect x="1157" y="267" width="1" height="34"/><rect x="1155" y="270" width="5" height="31"/><rect x="1156" y="271" width="3" height="29" fill="#fff"/><rect x="1165" y="258" width="1" height="16"/><rect x="1163" y="264" width="5" height="6"/><rect x="1164" y="265" width="3" height="4" fill="#fff"/><rect x="1173" y="264" width="1" height="8"/><rect x="1171" y="264" width="5" height="8"/><rect x="1181" y="269" width="1" height="10"/><rect x="1179" y="271" width="5" height="5"/><rect x="1189" y="270" width="1" height="10"/><rect x="1187" y="277" width="5" height="1"/><rect x="1197" y="274" width="1" height="23"/><rect x="1195" y="277" width="5" height="8"/><rect x="1205" y="255" width="1" height="32"/><rect x="1203" y="255" width="5" height="30"/><rect x="1204" y="256" width="3" height="28" fill="#fff"/><rect x="1213" y="246" width="1" height="17"/><rect x="1211" y="256" width="5" height="1"/><rect x="1221" y="245" width="1" height="15"/><rect x="1219" y="246" width="5" height="9"/><rect x="1220" y="247" width="3" height="7" fill="#fff"/><rect x="1229" y="233" width="1" height="16"/><rect x="1227" y="237" width="5" height="11"/><rect x="1228" y="238" width="3" height="9" fill="#fff"/><rect x="1237" y="210" width="1" height="28"/><rect x="1235" y="211" width="5" height="27"/><rect x="1236" y="212" width="3" height="25" fill="#fff"/><rect x="1245" y="143" width="1" height="73"/><rect x="1243" y="149" width="5" height="63"/><rect x="1244" y="150" width="3" height="61" fill="#fff"/><rect x="1253" y="127" width="1" height="35"/><rect x="1251" y="136" width="5" height="13"/><rect x="1252" y="137" width="3" height="11" fill="#fff"/><rect x="1261" y="129" width="1" height="19"/><rect x="1259" y="129" width="5" height="7"/><rect x="1260" y="130" width="3" height="5" fill="#fff"/><rect x="1269" y="89" width="1" height="41"/><rect x="1267" y="92" width="5" height="38"/><rect x="1268" y="93" width="3" height="36" fill="#fff"/><rect x="1277" y="86" width="1" height="32"/><rect x="1275" y="92" width="5" height="6"/><rect x="1285" y="91" width="1" height="23"/><rect x="1283" y="100" width="5" height="12"/><rect x="1293" y="111" width="1" height="46"/><rect x="1291" y="112" width="5" height="45"/><rect x="1301" y="137" width="1" height="42"/><rect x="1299" y="139" width="5" height="16"/><rect x="1300" y="140" width="3" height="14" fill="#fff"/><rect x="1309" y="133" width="1" height="14"/><rect x="1307" y="136" width="5" height="3"/><rect x="1308" y="137" width="3" height="1" fill="#fff"/><rect x="1317" y="133" width="1" height="13"/><rect x="1315" y="136" width="5" height="2"/><rect x="1325" y="129" width="1" height="21"/><rect x="1323" y="138" width="5" height="1"/><rect x="1333" y="104" width="1" height="40"/><rect x="1331" y="120" width="5" height="18"/><rect x="1332" y="121" width="3" height="16" fill="#fff"/><rect x="1341" y="103" width="1" height="33"/><rect x="1339" y="113" width="5" height="7"/><rect x="1340" y="114" width="3" height="5" fill="#fff"/><rect x="1349" y="89" width="1" height="28"/><rect x="1347" y="94" width="5" height="19"/><rect x="1348" y="95" width="3" height="17" fill="#fff"/><rect x="1357" y="75" width="1" height="21"/><rect x="1355" y="75" width="5" height="19"/><rect x="1356" y="76" width="3" height="17" fill="#fff"/><rect x="1365" y="68" width="1" height="13"/><rect x="1363" y="71" width="5" height="4"/><rect x="1364" y="72" width="3" height="2" fill="#fff"/><rect x="1373" y="71" width="1" height="43"/><rect x="1371" y="71" width="5" height="38"/><rect x="1381" y="85" width="1" height="43"/><rect x="1379" y="109" width="5" height="1"/><rect x="1389" y="109" width="1" height="33"/><rect x="1387" y="110" width="5" height="1"/><rect x="1397" y="78" width="1" height="35"/><rect x="1395" y="94" width="5" height="15"/><rect x="1396" y="95" width="3" height="13" fill="#fff"/><rect x="1405" y="84" width="1" height="16"/><rect x="1403" y="91" width="5" height="3"/><rect x="1404" y="92" width="3" height="1" fill="#fff"/></g></g>
<g clip-path="url(#cpMacd)" shape-rendering="crispEdges"><g fill="#c0c0c0"><rect x="5" y="680" width="1" height="4"/><rect x="13" y="680" width="1" height="4"/><rect x="21" y="680" width="1" height="4"/><rect x="29" y="680" width="1" height="4"/><rect x="37" y="680" width="1" height="6"/><rect x="45" y="680" width="1" height="4"/><rect x="53" y="680" width="1" height="3"/><rect x="61" y="680" width="1" height="2"/><rect x="69" y="680" width="1" height="1"/><rect x="77" y="679" width="1" height="2"/><rect x="85" y="678" width="1" height="3"/><rect x="93" y="676" width="1" height="5"/><rect x="101" y="675" width="1" height="6"/><rect x="109" y="674" width="1" height="7"/><rect x="117" y="674" width="1" height="7"/><rect x="125" y="677" width="1" height="4"/><rect x="133" y="676" width="1" height="5"/><rect x="141" y="677" width="1" height="4"/><rect x="149" y="677" width="1" height="4"/><rect x="157" y="678" width="1" height="3"/><rect x="165" y="679" width="1" height="2"/><rect x="173" y="678" width="1" height="3"/><rect x="181" y="677" width="1" height="4"/><rect x="189" y="676" width="1" height="5"/><rect x="197" y="678" width="1" height="3"/><rect x="205" y="678" width="1" height="3"/><rect x="213" y="680" width="1" height="1"/><rect x="237" y="680" width="1" height="1"/><rect x="245" y="680" width="1" height="2"/><rect x="253" y="680" width="1" height="4"/><rect x="261" y="680" width="1" height="8"/><rect x="269" y="680" width="1" height="11"/><rect x="277" y="680" width="1" height="13"/><rect x="285" y="680" width="1" height="13"/><rect x="293" y="680" width="1" height="11"/><rect x="301" y="680" width="1" height="9"/><rect x="309" y="680" width="1" height="7"/><rect x="317" y="680" width="1" height="6"/><rect x="325" y="680" width="1" height="4"/><rect x="333" y="680" width="1" height="3"/><rect x="341" y="680" width="1" height="5"/><rect x="349" y="680" width="1" height="8"/><rect x="357" y="680" width="1" height="10"/><rect x="365" y="680" width="1" height="16"/><rect x="373" y="680" width="1" height="23"/><rect x="381" y="680" width="1" height="32"/><rect x="389" y="680" width="1" height="41"/><rect x="397" y="680" width="1" height="39"/><rect x="405" y="680" width="1" height="39"/><rect x="413" y="680" width="1" height="38"/><rect x="421" y="680" width="1" height="37"/><rect x="429" y="680" width="1" height="36"/><rect x="437" y="680" width="1" height="32"/><rect x="445" y="680" width="1" height="29"/><rect x="453" y="680" width="1" height="29"/><rect x="461" y="680" width="1" height="30"/><rect x="469" y="680" width="1" height="30"/><rect x="477" y="680" width="1" height="27"/><rect x="485" y="680" width="1" height="26"/><rect x="493" y="680" width="1" height="28"/><rect x="501" y="680" width="1" height="26"/><rect x="509" y="680" width="1" height="26"/><rect x="517" y="680" width="1" height="24"/><rect x="525" y="680" width="1" height="26"/><rect x="533" y="680" width="1" height="31"/><rect x="541" y="680" width="1" height="36"/><rect x="549" y="680" width="1" height="39"/><rect x="557" y="680" width="1" height="40"/><rect x="565" y="680" width="1" height="41"/><rect x="573" y="680" width="1" height="38"/><rect x="581" y="680" width="1" height="34"/><rect x="589" y="680" width="1" height="27"/><rect x="597" y="680" width="1" height="20"/><rect x="605" y="680" width="1" height="13"/><rect x="613" y="680" width="1" height="7"/><rect x="621" y="680" width="1" height="4"/><rect x="629" y="680" width="1" height="4"/><rect x="637" y="680" width="1" height="6"/><rect x="645" y="680" width="1" height="6"/><rect x="653" y="680" width="1" height="8"/><rect x="661" y="680" width="1" height="9"/><rect x="669" y="680" width="1" height="14"/><rect x="677" y="680" width="1" height="25"/><rect x="685" y="680" width="1" height="34"/><rect x="693" y="680" width="1" height="40"/><rect x="701" y="680" width="1" height="45"/><rect x="709" y="680" width="1" height="48"/><rect x="717" y="680" width="1" height="51"/><rect x="725" y="680" width="1" height="53"/><rect x="733" y="680" width="1" height="57"/><rect x="741" y="680" width="1" height="58"/><rect x="749" y="680" width="1" height="57"/><rect x="757" y="680" width="1" height="57"/><rect x="765" y="680" width="1" height="54"/><rect x="773" y="680" width="1" height="52"/><rect x="781" y="680" width="1" height="48"/><rect x="789" y="680" width="1" height="46"/><rect x="797" y="680" width="1" height="42"/><rect x="805" y="680" width="1" height="38"/><rect x="813" y="680" width="1" height="31"/><rect x="821" y="680" width="1" height="26"/><rect x="829" y="680" width="1" height="20"/><rect x="837" y="680" width="1" height="15"/><rect x="845" y="680" width="1" height="9"/><rect x="853" y="680" width="1" height="5"/><rect x="861" y="680" width="1" height="3"/><rect x="869" y="680" width="1" height="4"/><rect x="877" y="680" width="1" height="6"/><rect x="885" y="680" width="1" height="6"/><rect x="893" y="680" width="1" height="5"/><rect x="901" y="680" width="1" height="4"/><rect x="909" y="678" width="1" height="3"/><rect x="917" y="675" width="1" height="6"/><rect x="925" y="673" width="1" height="8"/><rect x="933" y="670" width="1" height="11"/><rect x="941" y="668" width="1" height="13"/><rect x="949" y="665" width="1" height="16"/><rect x="957" y="662" width="1" height="19"/><rect x="965" y="659" width="1" height="22"/><rect x="973" y="658" width="1" height="23"/><rect x="981" y="656" width="1" height="25"/><rect x="989" y="652" width="1" height="29"/><rect x="997" y="653" width="1" height="28"/><rect x="1005" y="653" width="1" height="28"/><rect x="1013" y="650" width="1" height="31"/><rect x="1021" y="649" width="1" height="32"/><rect x="1029" y="648" width="1" height="33"/><rect x="1037" y="648" width="1" height="33"/><rect x="1045" y="649" width="1" height="32"/><rect x="1053" y="646" width="1" height="35"/><rect x="1061" y="643" width="1" height="38"/><rect x="1069" y="636" width="1" height="45"/><rect x="1077" y="630" width="1" height="51"/><rect x="1085" y="626" width="1" height="55"/><rect x="1093" y="623" width="1" height="58"/><rect x="1101" y="619" width="1" height="62"/><rect x="1109" y="621" width="1" height="60"/><rect x="1117" y="623" width="1" height="58"/><rect x="1125" y="625" width="1" height="56"/><rect x="1133" y="625" width="1" height="56"/><rect x="1141" y="626" width="1" height="55"/><rect x="1149" y="627" width="1" height="54"/><rect x="1157" y="625" width="1" height="56"/><rect x="1165" y="624" width="1" height="57"/><rect x="1173" y="624" width="1" height="57"/><rect x="1181" y="625" width="1" height="56"/><rect x="1189" y="627" width="1" height="54"/><rect x="1197" y="630" width="1" height="51"/><rect x="1205" y="629" width="1" height="52"/><rect x="1213" y="629" width="1" height="52"/><rect x="1221" y="629" width="1" height="52"/><rect x="1229" y="628" width="1" height="53"/><rect x="1237" y="624" width="1" height="57"/><rect x="1245" y="614" width="1" height="67"/><rect x="1253" y="605" width="1" height="76"/><rect x="1261" y="598" width="1" height="83"/><rect x="1269" y="589" width="1" height="92"/><rect x="1277" y="584" width="1" height="97"/><rect x="1285" y="582" width="1" height="99"/><rect x="1293" y="588" width="1" height="93"/><rect x="1301" y="592" width="1" height="89"/><rect x="1309" y="595" width="1" height="86"/><rect x="1317" y="598" width="1" height="83"/><rect x="1325" y="602" width="1" height="79"/><rect x="1333" y="604" width="1" height="77"/><rect x="1341" y="605" width="1" height="76"/><rect x="1349" y="605" width="1" height="76"/><rect x="1357" y="603" width="1" height="78"/><rect x="1365" y="602" width="1" height="79"/><rect x="1373" y="606" width="1" height="75"/><rect x="1381" y="611" width="1" height="70"/><rect x="1389" y="615" width="1" height="66"/><rect x="1397" y="618" width="1" height="63"/><rect x="1405" y="620" width="1" height="61"/></g><polyline points="0,662 5,665 13,667.9 21,671.8 29,675.3 37,678.1 45,680.8 53,682 61,683.1 69,683.3 77,682.8 85,682.1 93,681.2 101,680.3 109,678.9 117,677.8 125,677.2 133,676.6 141,676.1 149,675.9 157,675.9 165,676.2 173,676.6 181,677 189,677.2 197,677.3 205,677.6 213,678.1 221,678.5 229,678.7 237,678.9 245,679.3 253,680.1 261,681.4 269,682.8 277,684.4 285,685.8 293,686.9 301,687.9 309,688.6 317,689 325,688.9 333,688.5 341,687.8 349,687.2 357,686.9 365,687.5 373,689 381,691.8 389,695.7 397,699.6 405,703.7 413,707.4 421,710.6 429,713.4 437,715.2 445,715.9 453,715.5 461,714.4 469,713.3 477,711.9 485,710.6 493,709.6 501,708.5 509,707.8 517,707.3 525,707 533,707.1 541,707.8 549,709.1 557,710.6 565,712.1 573,713.4 581,714.4 589,714.6 597,713.9 605,712 613,708.8 621,704.9 629,701 637,697.1 645,693.5 653,690.6 661,688.7 669,688 677,689.3 685,692.3 693,696.4 701,701 709,705.6 717,710.6 725,715.6 733,720.9 741,725.8 749,729.3 757,731.9 765,733.4 773,734.1 781,734.1 789,733.4 797,732.2 805,730.1 813,727.1 821,723.8 829,719.7 837,715.3 845,710.6 853,705.8 861,701.1 869,696.9 877,693.3 885,690.5 893,688.2 901,686.3 909,684.5 917,683 925,681.8 933,680.3 941,678.4 949,676.1 957,673.4 965,670.5 973,667.6 981,665.1 989,662.5 997,660.3 1005,658.4 1013,656.5 1021,654.7 1029,653.1 1037,652 1045,651 1053,649.9 1061,648.9 1069,647 1077,644.5 1085,641.8 1093,638.9 1101,635.6 1109,632.6 1117,629.7 1125,627.3 1133,625.4 1141,624.2 1149,623.9 1157,623.8 1165,624 1173,624.5 1181,624.9 1189,625.4 1197,626 1205,626.4 1213,626.8 1221,627 1229,627.2 1237,627.3 1245,626.2 1253,624 1261,620.8 1269,616.2 1277,611.2 1285,605.9 1293,601.4 1301,597.4 1309,594.2 1317,592.4 1325,592.1 1333,592.7 1341,594.5 1349,596.8 1357,599.1 1365,600.6 1373,602.2 1381,604 1389,605.9 1397,607.6 1405,609.4" fill="none" stroke="#ff0000" stroke-width="1" stroke-dasharray="3,3"/></g>
<g clip-path="url(#cpRsi)" shape-rendering="crispEdges"><line x1="0" y1="784.5" x2="1648" y2="784.5" stroke="#c0c0c0" stroke-width="1" stroke-dasharray="3,3"/><line x1="0" y1="835.5" x2="1648" y2="835.5" stroke="#c0c0c0" stroke-width="1" stroke-dasharray="3,3"/><line x1="0" y1="896.5" x2="1648" y2="896.5" stroke="#c0c0c0" stroke-width="1" stroke-dasharray="3,3"/><polyline points="0,848.9 5,841.3 13,838 21,838.5 29,840.6 37,843.5 45,833.2 53,835.1 61,834.6 69,833.2 77,831.5 85,828.4 93,827.8 101,829.3 109,824.4 117,831.9 125,845.6 133,830.6 141,835.5 149,835.2 157,837.8 165,840.9 173,831.1 181,828.3 189,828.4 197,841.3 205,836.8 213,844.8 221,835.4 229,833.5 237,839 245,843.9 253,847.4 261,855.1 269,857.2 277,858.7 285,846.5 293,833.9 301,833.4 309,833.4 317,835.3 325,827.3 333,835.9 341,846.6 349,855.3 357,855.3 365,868.4 373,876.1 381,884.2 389,887.1 397,850.4 405,854.6 413,850.5 421,850.7 429,852.9 437,841.3 445,841.6 453,850.4 461,856.3 469,849.6 477,842.9 485,846.8 493,855 501,845.5 509,847.1 517,846 525,854.7 533,864.1 541,868.6 549,861.9 557,859.8 565,862.5 573,848.2 581,842.7 589,828.7 597,826.3 605,824.1 613,822 621,827.2 629,838.2 637,844.9 645,838.8 653,845.2 661,845.5 669,854.7 677,872.7 685,873.5 693,869.6 701,870.8 709,868.2 717,871.5 725,871.1 733,876.6 741,871 749,864.1 757,869.2 765,854.2 773,856.7 781,852.3 789,854.6 797,848.1 805,845.9 813,833.6 821,835.2 829,828.2 837,825.4 845,822.6 853,822.8 861,833.4 869,841 877,845.6 885,841.2 893,835.1 901,831.6 909,817.3 917,821.3 925,824.1 933,816.4 941,818 949,814.2 957,811.9 965,805.2 973,816 981,813.3 989,803.1 997,821.8 1005,819.2 1013,809.9 1021,812.5 1029,812.6 1037,813.6 1045,812.8 1053,804.2 1061,798.8 1069,789.1 1077,787.3 1085,789.3 1093,786.6 1101,784.4 1109,809.8 1117,806.5 1125,810.5 1133,804.8 1141,803.9 1149,806.9 1157,797.6 1165,796 1173,801.1 1181,804.1 1189,804.9 1197,811.6 1205,800.7 1213,801.2 1221,798.1 1229,795.3 1237,788.3 1245,777.5 1253,775.8 1261,775 1269,771 1277,774.6 1285,784.1 1293,809.3 1301,805 1309,804.1 1317,805.3 1325,805.3 1333,800.6 1341,798.7 1349,794.3 1357,790.3 1365,789.4 1373,812.1 1381,812 1389,812.5 1397,807.5 1405,806.3" fill="none" stroke="#1e90ff" stroke-width="1"/></g>
<g font-family="Liberation Sans"><g font-size="9.2" fill="#000" shape-rendering="crispEdges"><rect x="1649" y="40" width="2" height="1" fill="#000"/><text x="1654" y="43.3">162.130</text><rect x="1649" y="73" width="2" height="1" fill="#000"/><text x="1654" y="76.3">161.390</text><rect x="1649" y="105" width="2" height="1" fill="#000"/><text x="1654" y="109.1">160.650</text><rect x="1649" y="171" width="2" height="1" fill="#000"/><text x="1654" y="175.2">159.170</text><rect x="1649" y="204" width="2" height="1" fill="#000"/><text x="1654" y="208.2">158.430</text><rect x="1649" y="237" width="2" height="1" fill="#000"/><text x="1654" y="241.1">157.690</text><rect x="1649" y="270" width="2" height="1" fill="#000"/><text x="1654" y="274.1">156.950</text><rect x="1649" y="303" width="2" height="1" fill="#000"/><text x="1654" y="307.1">156.210</text><rect x="1649" y="336" width="2" height="1" fill="#000"/><text x="1654" y="340">155.450</text><rect x="1649" y="369" width="2" height="1" fill="#000"/><text x="1654" y="373">154.710</text><rect x="1649" y="402" width="2" height="1" fill="#000"/><text x="1654" y="406">153.970</text><rect x="1649" y="435" width="2" height="1" fill="#000"/><text x="1654" y="438.9">153.230</text><rect x="1649" y="468" width="2" height="1" fill="#000"/><text x="1654" y="471.9">152.490</text><rect x="1649" y="501" width="2" height="1" fill="#000"/><text x="1654" y="504.9">151.750</text><rect x="1649" y="534" width="2" height="1" fill="#000"/><text x="1654" y="537.9">151.010</text><rect x="1649" y="567" width="2" height="1" fill="#000"/><text x="1654" y="570.8">150.270</text><rect x="1650" y="19" width="41" height="11" fill="#ff0000"/><text x="1655" y="28" fill="#fff">162.451</text><rect x="1650" y="47" width="41" height="11" fill="#ff0000"/><text x="1655" y="56" fill="#fff">161.818</text><rect x="1650" y="84" width="41" height="11" fill="#32cd32"/><text x="1655" y="93" fill="#fff">160.999</text><rect x="1650" y="108" width="41" height="11" fill="#0000ff"/><text x="1655" y="117" fill="#fff">160.446</text><rect x="1650" y="134" width="41" height="11" fill="#0000ff"/><text x="1655" y="143" fill="#fff">159.873</text><rect x="1650" y="95" width="41" height="1" fill="#000"/><text x="1652.5" y="583">1.4912</text><text x="1652.5" y="683.5">0.00</text><text x="1652.5" y="742.7">-0.9167</text><text x="1652.5" y="759.3">100</text><text x="1652.5" y="788.1">80</text><text x="1652.5" y="838.9">50</text><text x="1652.5" y="900">15</text><text x="1652.5" y="918.8">0</text><rect x="1649" y="680" width="2" height="1" fill="#000"/><rect x="1649" y="784" width="2" height="1" fill="#000"/><rect x="1649" y="835" width="2" height="1" fill="#000"/><rect x="1649" y="896" width="2" height="1" fill="#000"/><rect x="1649" y="749" width="2" height="1" fill="#000"/><rect x="1649" y="573" width="2" height="1" fill="#000"/><text x="2" y="935">Feb 2022</text><rect x="53" y="923" width="1" height="3" fill="#000"/><text x="52.5" y="935">15 Feb 12:00</text><rect x="117" y="923" width="1" height="3" fill="#000"/><text x="116.5" y="935">16 Feb 20:00</text><rect x="181" y="923" width="1" height="3" fill="#000"/><text x="180.5" y="935">18 Feb 04:00</text><rect x="245" y="923" width="1" height="3" fill="#000"/><text x="244.5" y="935">21 Feb 12:00</text><rect x="309" y="923" width="1" height="3" fill="#000"/><text x="308.5" y="935">22 Feb 20:00</text><rect x="373" y="923" width="1" height="3" fill="#000"/><text x="372.5" y="935">24 Feb 04:00</text><rect x="437" y="923" width="1" height="3" fill="#000"/><text x="436.5" y="935">25 Feb 12:00</text><rect x="501" y="923" width="1" height="3" fill="#000"/><text x="500.5" y="935">28 Feb 20:00</text><rect x="565" y="923" width="1" height="3" fill="#000"/><text x="564.5" y="935">2 Mar 04:00</text><rect x="629" y="923" width="1" height="3" fill="#000"/><text x="628.5" y="935">3 Mar 12:00</text><rect x="693" y="923" width="1" height="3" fill="#000"/><text x="692.5" y="935">6 Mar 23:00</text><rect x="757" y="923" width="1" height="3" fill="#000"/><text x="756.5" y="935">8 Mar 04:00</text><rect x="821" y="923" width="1" height="3" fill="#000"/><text x="820.5" y="935">9 Mar 12:00</text><rect x="885" y="923" width="1" height="3" fill="#000"/><text x="884.5" y="935">10 Mar 20:00</text><rect x="949" y="923" width="1" height="3" fill="#000"/><text x="948.5" y="935">14 Mar 04:00</text><rect x="1013" y="923" width="1" height="3" fill="#000"/><text x="1012.5" y="935">15 Mar 12:00</text><rect x="1077" y="923" width="1" height="3" fill="#000"/><text x="1076.5" y="935">16 Mar 20:00</text><rect x="1141" y="923" width="1" height="3" fill="#000"/><text x="1140.5" y="935">18 Mar 04:00</text><rect x="1205" y="923" width="1" height="3" fill="#000"/><text x="1204.5" y="935">21 Mar 12:00</text><rect x="1269" y="923" width="1" height="3" fill="#000"/><text x="1268.5" y="935">22 Mar 20:00</text><rect x="1333" y="923" width="1" height="3" fill="#000"/><text x="1332.5" y="935">24 Mar 04:00</text><rect x="1397" y="923" width="1" height="3" fill="#000"/><text x="1396.5" y="935">25 Mar 12:00</text></g><text x="4" y="33.6" font-size="9.3" fill="#000" style="white-space:pre">GBPJPY-,H4  160.911 161.134 160.762 161.003</text><text x="-6.5" y="585.2" font-size="9.3" fill="#000">MACD(12,26,9) 0.8551 1.0001</text><text x="-6" y="761.9" font-size="9.3" fill="#000">RSI(14) 67.3712</text></g>
<g clip-path="url(#cpAll)" shape-rendering="crispEdges"><line x1="1193" y1="279" x2="1281.7" y2="98.4" stroke="#ff0000" stroke-width="4" stroke-linecap="round"/><polygon points="1286.5,88.5 1286.2,102.8 1275.4,97.5" fill="#ff0000"/><line x1="1286.5" y1="88.5" x2="1303.3" y2="153.1" stroke="#ff0000" stroke-width="4" stroke-linecap="round"/><polygon points="1305.8,162.8 1297,152.7 1308.6,149.7" fill="#ff0000"/><line x1="1305" y1="166" x2="1440.9" y2="72.8" stroke="#ff0000" stroke-width="4" stroke-linecap="round"/><polygon points="1450,66.6 1442.7,78.9 1435.9,69" fill="#ff0000"/><line x1="1336.5" y1="605.4" x2="1419.1" y2="618.8" stroke="#ff0000" stroke-width="4" stroke-linecap="round"/><polygon points="1429,620.4 1416.4,623.4 1418,613.5" fill="#ff0000"/><line x1="1372" y1="812.5" x2="1419" y2="813.2" stroke="#ff0000" stroke-width="4" stroke-linecap="round"/><polygon points="1429,813.3 1416.9,818.1 1417.1,808.1" fill="#ff0000"/></g>
<rect x="1694" y="17" width="1" height="921" fill="#d4d4d4"/><polygon points="1411,22 1419,22 1415,26" fill="#a0a0a0"/>
</svg>

<div style="position:absolute;left:0;top:41px;width:211px;height:57px;background:#fff"></div>
<div class="pb" style="left:0;top:41px;width:44px;height:25px;"><span style="position:absolute;left:4px;top:4px;transform:scaleX(0.84);transform-origin:0 0">SELL</span>
<div style="position:absolute;left:-1px;top:22px;width:41px;height:1px;background:#000090"></div><div style="position:absolute;left:-1px;top:23px;width:41px;height:1px;background:#8080ff"></div></div>
<div class="pp" style="left:0;top:65px;width:101px;height:33px;"><span style="position:absolute;left:15px;top:16px;font-size:12px;font-weight:bold">161</span><span style="position:absolute;left:39px;top:-3px;font-size:33.5px;letter-spacing:-0.5px">00</span><span style="position:absolute;left:79px;top:1px;font-size:12.5px;font-weight:bold">3</span></div>
<div class="pp" style="left:103px;top:65px;width:108px;height:33px;"><span style="position:absolute;left:22px;top:16px;font-size:12px;font-weight:bold">161</span><span style="position:absolute;left:46.5px;top:-3px;font-size:33.5px;letter-spacing:-1px">03</span><span style="position:absolute;left:86px;top:1px;font-size:12.5px;font-weight:bold">7</span></div>
<div class="vol"><div class="vb" style="left:1px"><div class="tri" style="top:7px;border-top:4px solid #4a62c8"></div></div>
<span style="position:absolute;left:62px;top:3px;font-size:12px;color:#1a1a1a">1.00</span>
<div class="vb" style="left:89px"><div class="tri" style="top:6px;border-bottom:4px solid #4a62c8"></div></div></div>
<div class="pb" style="left:159px;top:41px;width:52px;height:25px;"><span style="position:absolute;left:13px;top:4px;transform:scaleX(0.92);transform-origin:0 0">BUY</span>
<div style="position:absolute;left:3px;top:22px;width:44px;height:1px;background:#000090"></div><div style="position:absolute;left:3px;top:23px;width:44px;height:1px;background:#8080ff"></div></div>

</body></html>
